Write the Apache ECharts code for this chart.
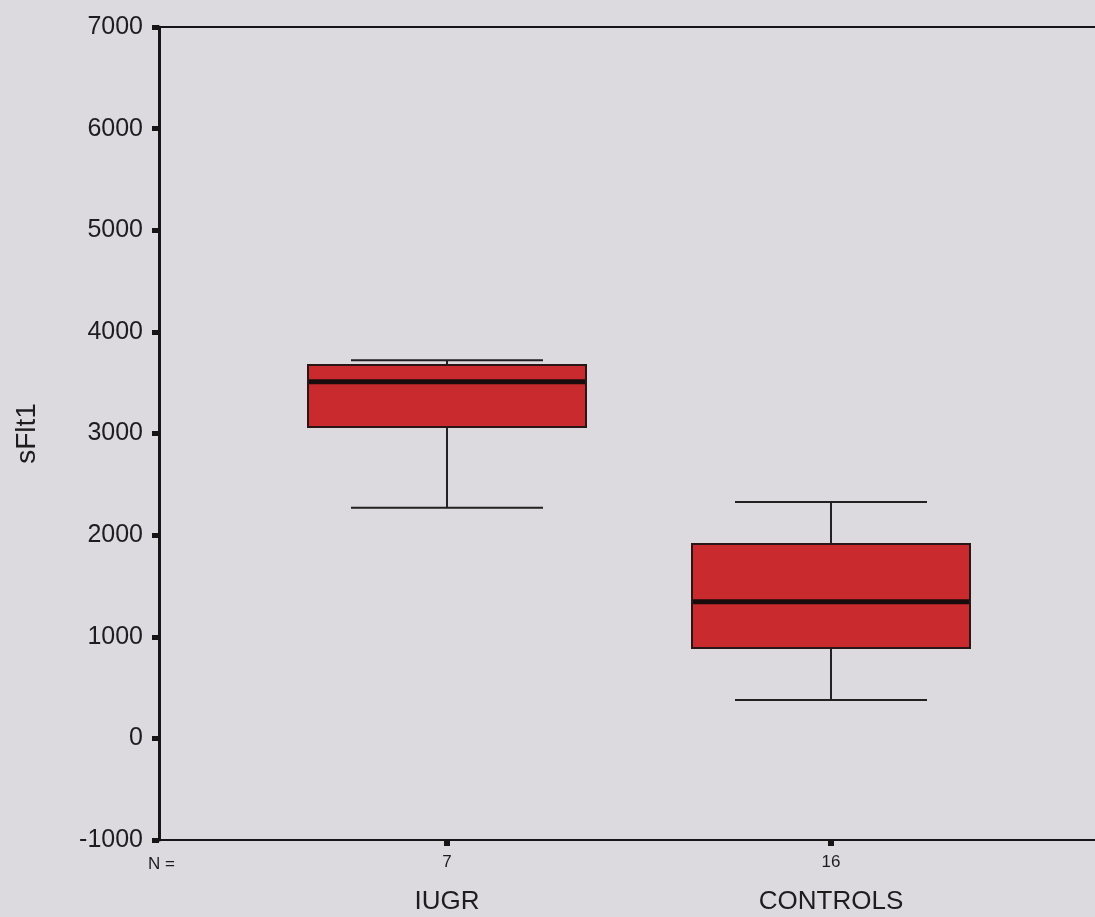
<!DOCTYPE html>
<html>
<head>
<meta charset="utf-8">
<script src="https://cdn.jsdelivr.net/npm/echarts@6/dist/echarts.min.js"></script>
<style>
html,body{margin:0;padding:0;background:#dcd9df;}
#chart{width:1095px;height:917px;}
</style>
</head>
<body>
<div id="chart"></div>
<script>
// ---- data ----
const categories = ['IUGR', 'CONTROLS'];
const counts = [7, 16];
const whiskerLow = [2270, 378];
const q1 = [3065, 890];
const median = [3510, 1345];
const q3 = [3675, 1912];
const whiskerHigh = [3722, 2327];
const yTicks = { min: -1000, max: 7000, interval: 1000 };

// padded category slots so that groups sit where the original draws them
const slots = ['', categories[0], '', categories[1], ''];
const slotIndex = [1, 3];
const empty = ['-', '-', '-', '-', '-'];
function build(fn) {
  const arr = slots.map(() => empty);
  slotIndex.forEach((s, i) => { arr[s] = fn(i); });
  return arr;
}
const whiskerData = build(i => [whiskerLow[i], q1[i], median[i], q3[i], whiskerHigh[i]]);
const boxData = build(i => [q1[i], q1[i], median[i], q3[i], q3[i]]);
const medianData = build(i => [median[i], median[i], median[i], median[i], median[i]]);
const nByCat = {};
categories.forEach((c, i) => { nByCat[c] = counts[i]; });

const FONT = "'Liberation Sans', Arial, sans-serif";
const chart = echarts.init(document.getElementById('chart'));

const baseX = {
  type: 'category',
  data: slots,
  boundaryGap: true,
  gridIndex: 0
};

chart.setOption({
  backgroundColor: '#dcd9df',
  animation: false,
  grid: {
    left: 159, top: 27, width: 960, height: 813,
    outerBoundsMode: 'none', containLabel: false,
    show: true, borderColor: '#161616', borderWidth: 2, backgroundColor: 'transparent'
  },
  xAxis: [
    Object.assign({}, baseX, {
      axisLine: { onZero: false, lineStyle: { color: '#161616', width: 2 } },
      axisTick: {
        show: true, alignWithLabel: true, length: 6,
        interval: (idx, val) => val !== '',
        lineStyle: { color: '#161616', width: 6 }
      },
      axisLabel: {
        interval: 0, margin: 11,
        formatter: v => v ? '{n|' + nByCat[v] + '}\n{c|' + v + '}' : '',
        rich: {
          n: { fontFamily: FONT, fontSize: 17, color: '#1d1d1d', lineHeight: 22 },
          c: { fontFamily: FONT, fontSize: 26, color: '#1d1d1d', lineHeight: 58 }
        }
      },
      splitLine: { show: false }
    }),
    Object.assign({}, baseX, { show: false, axisLine: { onZero: false } }),
    Object.assign({}, baseX, { show: false, axisLine: { onZero: false } })
  ],
  yAxis: {
    type: 'value',
    min: yTicks.min, max: yTicks.max, interval: yTicks.interval,
    name: 'sFlt1', nameLocation: 'middle', nameGap: 118, nameRotate: 90,
    nameTextStyle: { fontFamily: FONT, fontSize: 28, color: '#1d1d1d' },
    axisLine: { show: true, onZero: false, lineStyle: { color: '#161616', width: 3 } },
    axisTick: { show: true, length: 7, lineStyle: { color: '#161616', width: 5 } },
    axisLabel: { fontFamily: FONT, fontSize: 25, color: '#1d1d1d', margin: 16, formatter: v => String(v) },
    splitLine: { show: false }
  },
  graphic: [{
    type: 'text', left: 148, top: 856,
    style: { text: 'N =', fontFamily: FONT, fontSize: 17, fill: '#1d1d1d' }
  }],
  series: [
    {
      type: 'boxplot', xAxisIndex: 1, data: whiskerData,
      boxWidth: [192, 192],
      itemStyle: { color: 'transparent', borderColor: '#222', borderWidth: 2 },
      emphasis: { disabled: true }
    },
    {
      type: 'boxplot', xAxisIndex: 0, data: boxData,
      boxWidth: [278, 278],
      itemStyle: { color: '#c92a2d', borderColor: '#2a1616', borderWidth: 2 },
      emphasis: { disabled: true }
    },
    {
      type: 'boxplot', xAxisIndex: 2, data: medianData,
      boxWidth: [276, 276],
      itemStyle: { color: '#1a0c0c', borderColor: '#1a0c0c', borderWidth: 5 },
      emphasis: { disabled: true }
    }
  ]
});
</script>
</body>
</html>
